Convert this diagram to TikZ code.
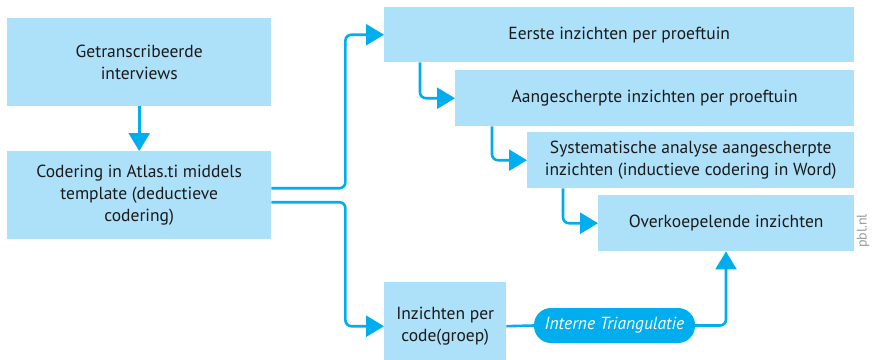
\documentclass[tikz,border=0pt]{standalone}
\usepackage{fontspec}
\setmainfont{PT Sans}
\usetikzlibrary{arrows.meta,positioning}
\definecolor{boxfill}{HTML}{ADE1FA}
\definecolor{linec}{HTML}{00AEEF}
\definecolor{txt}{HTML}{1A1A1A}
\tikzset{
  box/.style={fill=boxfill, inner sep=0pt, align=center, text=txt, font=\fontsize{17.5bp}{22bp}\selectfont, anchor=north west},
  conn/.style={draw=linec, line width=2.6bp, rounded corners=6bp, -{Triangle[length=18bp,width=21bp]}},
  plain/.style={draw=linec, line width=2.6bp, rounded corners=6bp},
  pill/.style={fill=linec, rounded corners=17bp, text=white, inner sep=0pt, font=\fontsize{17.5bp}{22bp}\selectfont\itshape},
}
\begin{document}
\begin{tikzpicture}[x=1bp,y=-1bp]
\useasboundingbox (0,0) rectangle (872,359);
\clip (0,0) rectangle (872,359);
\node[box, minimum width=264bp, minimum height=88bp] (trans) at (7,18) {Getranscribeerde\\interviews};
\node[box, minimum width=264bp, minimum height=88bp] (cod) at (7,151) {Codering in Atlas.ti middels\\template (deductieve\\codering)};
\node[box, minimum width=470bp, minimum height=55bp] (eerste) at (384,7) {Eerste inzichten per proeftuin};
\node[box, minimum width=399bp, minimum height=56bp] (aang) at (455,70) {Aangescherpte inzichten per proeftuin};
\node[box, minimum width=327bp, minimum height=56bp] (sys) at (527,132) {Systematische analyse aangescherpte\\inzichten (inductieve codering in Word)};
\node[box, minimum width=256bp, minimum height=56bp] (overk) at (598,195) {Overkoepelende inzichten};
\node[box, minimum width=122bp, minimum height=88bp] (inz) at (384,282) {Inzichten per\\code(groep)};
\node[pill, minimum width=161bp, minimum height=35bp] (tri) at (614.5,325.5) {Interne Triangulatie};
\node[rotate=90, text=black!40, font=\fontsize{14bp}{16bp}\selectfont, anchor=center] (pbl) at (863,231) {pbl.nl};
\draw[conn] (trans.south) -- (cod.north);
\draw[conn] ([yshift=7bp]cod.east) -- ++(74bp,0) |- (eerste.west);
\draw[conn] ([yshift=-7bp]cod.east) -- ++(74bp,0) |- (inz.west);
\draw[conn] ([xshift=36bp]eerste.south west) |- (aang.west);
\draw[conn] ([xshift=37bp]aang.south west) |- (sys.west);
\draw[conn] ([xshift=36bp]sys.south west) |- (overk.west);
\draw[plain] (inz.east) -- (tri.west);
\draw[conn] (tri.east) -| ([xshift=128bp]overk.south west);
\end{tikzpicture}
\end{document}
